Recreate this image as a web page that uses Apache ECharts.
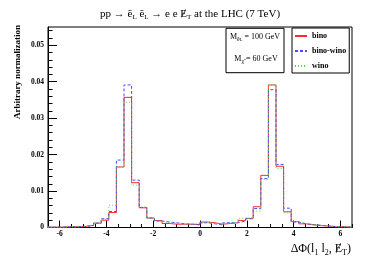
<!DOCTYPE html>
<html>
<head>
<meta charset="utf-8">
<script src="https://cdn.jsdelivr.net/npm/echarts@6/dist/echarts.min.js"></script>
<style>html,body{margin:0;padding:0;background:#fff}#c{width:390px;height:265px}</style>
</head>
<body>
<div id="c"></div>
<script>
// Histogram binning: 40 bins from -6.5 to 6.5
var binLow = -6.5;
var binWidth = 0.325;
var seriesNames = ['bino', 'bino-wino', 'wino'];
var bino = [0.0001,0.0001,0.0002,0.0002,0.0003,0.0006,0.0012,0.0020,0.0041,0.0166,
            0.0357,0.0123,0.0054,0.0026,0.0019,0.0011,0.0009,0.0009,0.0009,0.0008,
            0.0015,0.0013,0.0009,0.0011,0.0013,0.0019,0.0025,0.0057,0.0143,0.0391,
            0.0168,0.0043,0.0016,0.0010,0.0007,0.0005,0.0004,0.0002,0.0002,0.0001];
var binoWino = [0.0001,0.0001,0.0002,0.0002,0.0003,0.0006,0.0012,0.0024,0.0044,0.0185,
            0.0391,0.0130,0.0055,0.0026,0.0018,0.0015,0.0013,0.0010,0.0009,0.0007,
            0.0013,0.0010,0.0007,0.0013,0.0013,0.0018,0.0024,0.0052,0.0134,0.0378,
            0.0173,0.0053,0.0015,0.0010,0.0008,0.0006,0.0004,0.0002,0.0002,0.0001];
var wino = [0.0001,0.0001,0.0002,0.0002,0.0004,0.0007,0.0013,0.0022,0.0061,0.0166,
            0.0344,0.0116,0.0056,0.0025,0.0017,0.0013,0.0011,0.0010,0.0009,0.0011,
            0.0014,0.0011,0.0009,0.0013,0.0014,0.0025,0.0026,0.0045,0.0132,0.0391,
            0.0162,0.0040,0.0016,0.0011,0.0008,0.0006,0.0004,0.0002,0.0002,0.0001];
var xMajorTicks = [-6,-4,-2,0,2,4,6];
var xMinorTicks = [-6.5,-6,-5.5,-5,-4.5,-4,-3.5,-3,-2.5,-2,-1.5,-1,-0.5,0,0.5,1,1.5,2,2.5,3,3.5,4,4.5,5,5.5,6,6.5];
var yMajorTicks = [0,0.01,0.02,0.03,0.04,0.05];
var yMinorTicks = [0.002,0.004,0.006,0.008,0.012,0.014,0.016,0.018,0.022,0.024,0.026,0.028,
                   0.032,0.034,0.036,0.038,0.042,0.044,0.046,0.048,0.052,0.054];

function histPoints(vals) {
  var pts = vals.map(function (v, i) { return [binLow + i * binWidth, v]; });
  pts.push([binLow + vals.length * binWidth, vals[vals.length - 1]]);
  return pts;
}

var serif = 'Liberation Serif';
var chart = echarts.init(document.getElementById('c'), null, {renderer: 'canvas'});
var xMin = binLow, xMax = binLow + bino.length * binWidth;
var yMax = 0.055;
var METslash = '\u0246';

chart.setOption({
  animation: false,
  title: {
    text: 'pp → {t|ẽ}{s|L} {t|ẽ}{s|L} → e e {t|' + METslash + '}{s|T} at the LHC (7 TeV)',
    left: 100, top: 7, padding: 0,
    textStyle: {
      fontFamily: serif, fontSize: 11, fontWeight: 'normal', color: '#000', lineHeight: 14,
      rich: {
        t: {fontFamily: serif, fontSize: 11, lineHeight: 14, color: '#000'},
        s: {fontFamily: serif, fontSize: 7, lineHeight: 9, verticalAlign: 'bottom', color: '#000'}
      }
    }
  },
  grid: {left: 48, top: 27, right: 38, bottom: 37.5, show: true, borderColor: '#000', borderWidth: 1,
         backgroundColor: 'transparent', outerBoundsMode: 'none', containLabel: false},
  legend: {
    left: 292, top: 28, orient: 'vertical',
    itemWidth: 12, itemHeight: 8, itemGap: 7,
    padding: [4, 3, 3, 2],
    borderColor: '#000', borderWidth: 1,
    itemStyle: {color: 'transparent', borderColor: 'transparent', borderWidth: 0, opacity: 0},
    textStyle: {fontFamily: serif, fontWeight: 'bold', fontSize: 8, color: '#000'},
    data: seriesNames
  },
  xAxis: [{
    type: 'value', min: xMin, max: xMax,
    axisLine: {show: true, onZero: false, lineStyle: {color: '#000', width: 1}},
    axisTick: {show: true, inside: true, length: 7, lineStyle: {color: '#000'}, customValues: xMajorTicks},
    axisLabel: {show: true, customValues: xMajorTicks, margin: 3, fontFamily: serif, fontWeight: 'bold', fontSize: 7.5, color: '#000'},
    splitLine: {show: false}
  }, {
    type: 'value', min: xMin, max: xMax, position: 'bottom',
    axisLine: {show: false, onZero: false},
    axisTick: {show: true, inside: true, length: 3.5, lineStyle: {color: '#000'}, customValues: xMinorTicks},
    axisLabel: {show: false},
    splitLine: {show: false}
  }],
  yAxis: [{
    type: 'value', min: 0, max: yMax,
    axisLine: {show: true, onZero: false, lineStyle: {color: '#000', width: 1}},
    axisTick: {show: true, inside: true, length: 9, lineStyle: {color: '#000'}, customValues: yMajorTicks},
    axisLabel: {show: true, customValues: yMajorTicks, margin: 4, fontFamily: serif, fontWeight: 'bold', fontSize: 7.5, color: '#000',
      formatter: function (v) { return v === 0 ? '0' : v.toFixed(2); }},
    splitLine: {show: false}
  }, {
    type: 'value', min: 0, max: yMax, position: 'left',
    axisLine: {show: false, onZero: false},
    axisTick: {show: true, inside: true, length: 4.5, lineStyle: {color: '#000'}, customValues: yMinorTicks},
    axisLabel: {show: false},
    splitLine: {show: false}
  }],
  graphic: [
    {
      type: 'text', x: 17.5, y: 72, rotation: Math.PI / 2,
      style: {text: 'Arbitrary normalization', fontFamily: serif, fontWeight: 'bold', fontSize: 9, fill: '#000', textAlign: 'center', textVerticalAlign: 'middle'}
    },
    {
      type: 'text', x: 351, y: 249,
      style: {
        text: 'ΔΦ(l{s|1} l{s|2}, ' + METslash + '{s|T})',
        fontFamily: serif, fontSize: 12, fill: '#000', align: 'right', verticalAlign: 'middle', lineHeight: 15,
        rich: {s: {fontFamily: serif, fontSize: 8, lineHeight: 8, verticalAlign: 'bottom'}}
      }
    },
    {
      type: 'rect', shape: {x: 226, y: 28.3, width: 58, height: 44.4},
      style: {fill: '#fff', stroke: '#000', lineWidth: 1}, z: 10
    },
    {
      type: 'text', x: 255, y: 37, z: 11,
      style: {
        text: 'M{s|ẽ}{ss|L} = 100 GeV', fontFamily: serif, fontSize: 8, fill: '#000', align: 'center', verticalAlign: 'middle', lineHeight: 11,
        rich: {
          s: {fontFamily: serif, fontSize: 6, lineHeight: 7, verticalAlign: 'bottom'},
          ss: {fontFamily: serif, fontSize: 4.5, lineHeight: 4, verticalAlign: 'bottom'}
        }
      }
    },
    {
      type: 'text', x: 256, y: 59, z: 11,
      style: {
        text: 'M{s|χ\u0303} = 60 GeV', fontFamily: serif, fontSize: 8, fill: '#000', align: 'center', verticalAlign: 'middle', lineHeight: 11,
        rich: {s: {fontFamily: serif, fontSize: 6, lineHeight: 7, verticalAlign: 'bottom'}}
      }
    }
  ],
  series: [
    {name: seriesNames[0], type: 'line', step: 'end', data: histPoints(bino), symbol: 'none', xAxisIndex: 0, yAxisIndex: 0,
     lineStyle: {color: '#ff2a2a', width: 1}, itemStyle: {color: '#ff2a2a'}, z: 3},
    {name: seriesNames[1], type: 'line', step: 'end', data: histPoints(binoWino), symbol: 'none', xAxisIndex: 0, yAxisIndex: 0,
     lineStyle: {color: '#4a4aff', width: 1, type: [3, 2]}, itemStyle: {color: '#4a4aff'}, z: 4},
    {name: seriesNames[2], type: 'line', step: 'end', data: histPoints(wino), symbol: 'none', xAxisIndex: 0, yAxisIndex: 0,
     lineStyle: {color: '#4fd84f', width: 1, type: [1, 2]}, itemStyle: {color: '#4fd84f'}, z: 5}
  ]
});
</script>
</body>
</html>
